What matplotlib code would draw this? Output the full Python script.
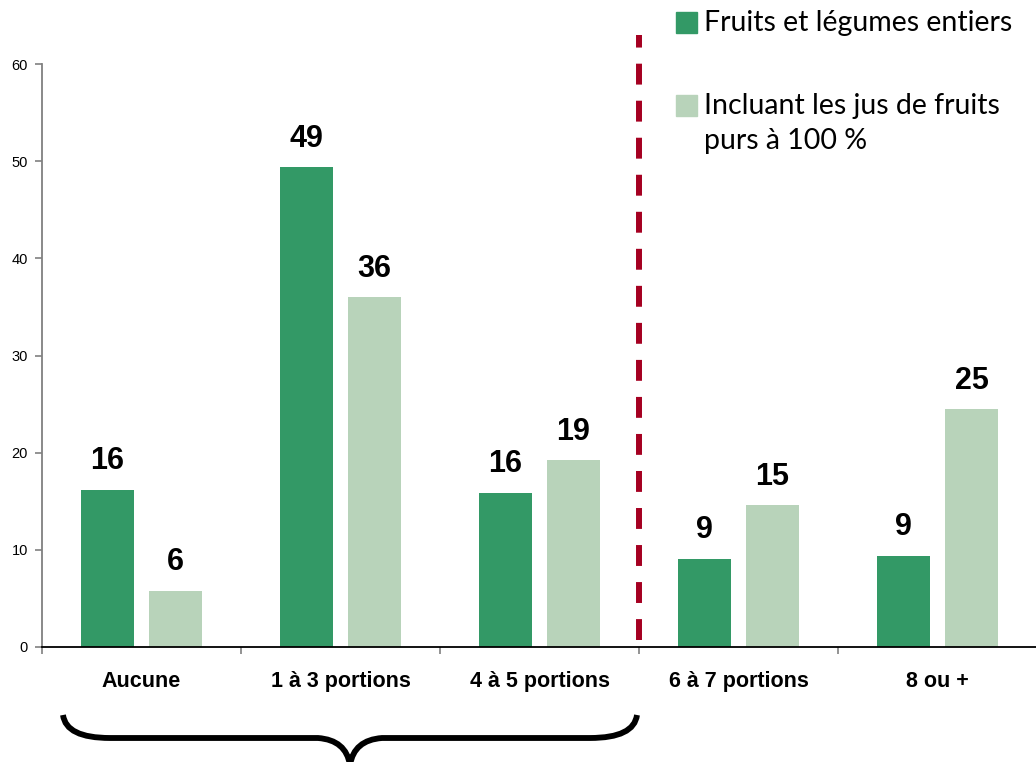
import matplotlib.pyplot as plt
from matplotlib.path import Path
from matplotlib.patches import PathPatch, Rectangle

# Données
categories = ['Aucune', '1 à 3 portions', '4 à 5 portions', '6 à 7 portions', '8 ou +']
entiers = [16.2, 49.4, 15.9, 9.1, 9.4]
avec_jus = [5.8, 36.0, 19.2, 14.6, 24.5]
etiquettes_entiers = ['16', '49', '16', '9', '9']
etiquettes_jus = ['6', '36', '19', '15', '25']
serie_noms = ['Fruits et légumes entiers', 'Incluant les jus de fruits\npurs à 100 %']

vert_fonce = '#339966'
vert_clair = '#B8D3BA'
rouge = '#A50021'

W, H = 1036, 762
fig = plt.figure(figsize=(W / 100, H / 100), dpi=100)
ax = fig.add_axes([42 / W, 1 - 647 / H, (1037 - 42) / W, (647 - 64) / H])

centres = [i + 0.5 for i in range(len(categories))]
dx = 0.171
largeur = 0.266
ax.bar([c - dx for c in centres], entiers, largeur, color=vert_fonce)
ax.bar([c + dx for c in centres], avec_jus, largeur, color=vert_clair)

for c, v, t in zip(centres, entiers, etiquettes_entiers):
    ax.annotate(t, (c - dx, v), xytext=(0, 9.5), textcoords='offset points',
                ha='center', va='bottom', fontsize=22, fontweight='bold',
                family='Liberation Sans')
for c, v, t in zip(centres, avec_jus, etiquettes_jus):
    ax.annotate(t, (c + dx, v), xytext=(0, 9.5), textcoords='offset points',
                ha='center', va='bottom', fontsize=22, fontweight='bold',
                family='Liberation Sans')

# ligne rouge pointillée
ax.plot([3.0, 3.0], [0.7, 63.0], color=rouge, lw=4.3, linestyle=(0, (3.5, 2.7)),
        clip_on=False, solid_capstyle='butt')

ax.set_xlim(0, 5)
ax.set_ylim(0, 60)
ax.set_yticks(range(0, 61, 10))
ax.set_xticks(range(0, 6))
ax.set_xticklabels([])
ax.set_xticks(centres, minor=True)
ax.set_xticklabels(categories, minor=True, fontsize=15.5, fontweight='bold',
                   family='Liberation Sans')
ax.tick_params(axis='x', which='minor', length=0, pad=17.5)
ax.tick_params(axis='x', which='major', length=5, color='#808080', width=1.2)
ax.tick_params(axis='y', length=5, color='#808080', width=1.2, pad=5,
               labelsize=10.5)
for lab in ax.get_yticklabels():
    lab.set_family('Liberation Sans')
ax.spines['top'].set_visible(False)
ax.spines['right'].set_visible(False)
ax.spines['left'].set_color('#808080')
ax.spines['left'].set_linewidth(1.3)
ax.spines['bottom'].set_linewidth(1.3)

# légende
fig.patches.append(Rectangle((676 / W, 1 - 33 / H), 21 / W, 21 / H,
                             color=vert_fonce, transform=fig.transFigure))
fig.patches.append(Rectangle((676 / W, 1 - 116 / H), 21 / W, 21 / H,
                             color=vert_clair, transform=fig.transFigure))
fig.text(704 / W, 1 - 23 / H, serie_noms[0], fontsize=20.5, family='Lato',
         va='center', ha='left')
for k, ligne in enumerate(serie_noms[1].split('\n')):
    fig.text(704 / W, 1 - (106 + 35 * k) / H, ligne, fontsize=20.5, family='Lato',
             va='center', ha='left')

# accolade
def p(x, y):
    return (x / W, 1 - y / H)

verts = [p(63, 715), p(66, 738), p(110, 738), p(318, 738), p(346, 740), p(350, 765),
         p(354, 740), p(382, 738), p(590, 738), p(634, 738), p(637, 715)]
codes = [Path.MOVETO, Path.CURVE3, Path.CURVE3, Path.LINETO, Path.CURVE3, Path.CURVE3,
         Path.CURVE3, Path.CURVE3, Path.LINETO, Path.CURVE3, Path.CURVE3]
fig.patches.append(PathPatch(Path(verts, codes), fill=False, lw=4.2, color='black',
                             transform=fig.transFigure, capstyle='butt'))

fig.savefig('out.png', dpi=100)
